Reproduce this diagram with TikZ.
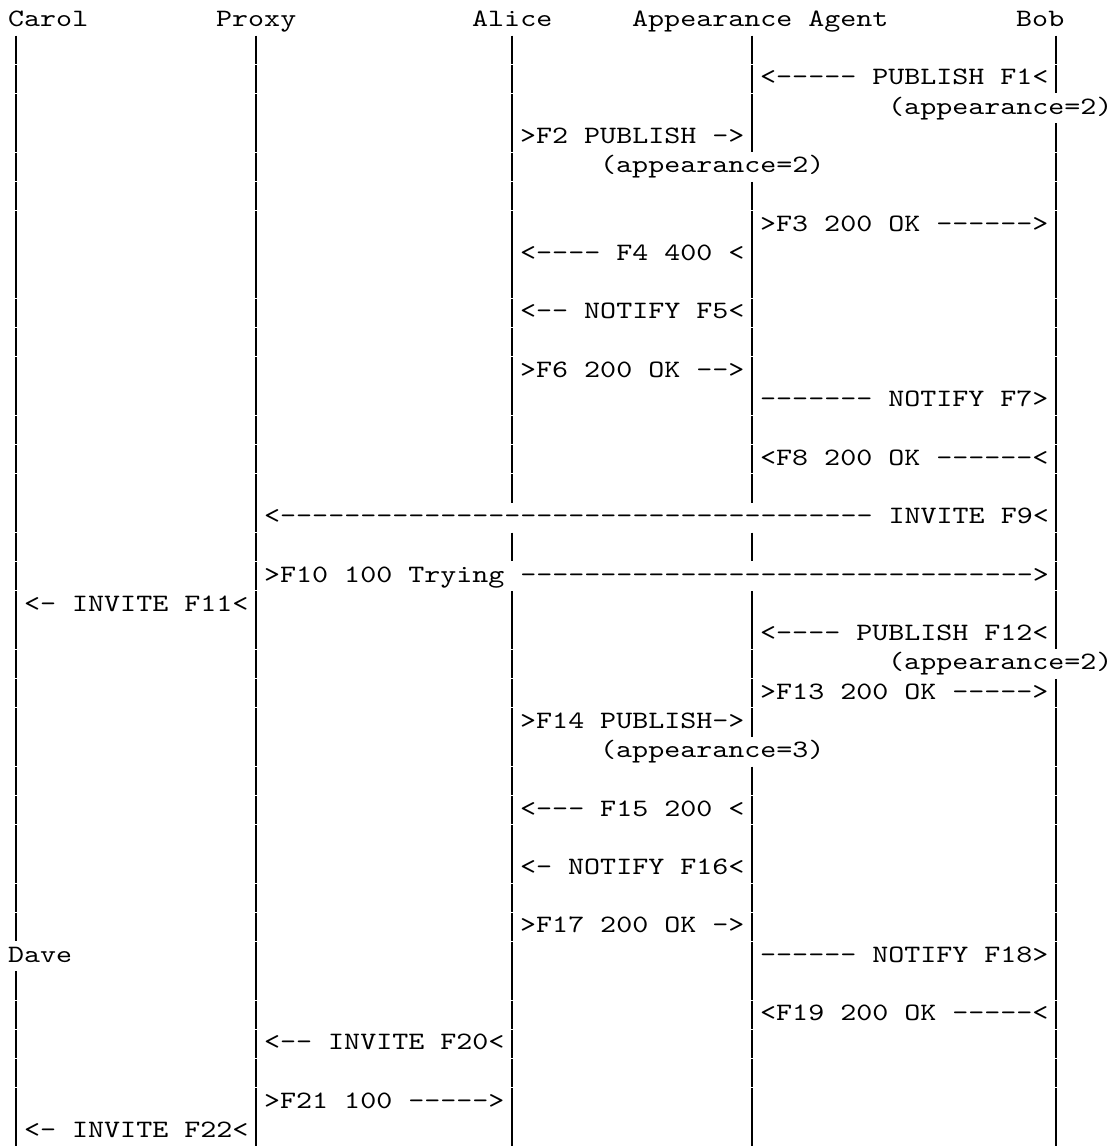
\documentclass[tikz,border=0pt]{standalone}
\usepackage{fontspec}
\setmonofont{lmmono10-regular.otf}[FakeStretch=1.22, Ligatures=TeXOff]
\usepackage{tikz}
\tikzset{
lifeline/.style={line width=1.4pt, dash pattern=on 28.5pt off 0.74pt},
msg/.style={anchor=base west, inner sep=0pt, font=\ttfamily\fontsize{25pt}{29pt}\selectfont}
}

\begin{document}
\begin{tikzpicture}[x=16pt, y=-29.24pt]
\useasboundingbox (-0.5,-0.9063) rectangle (68.9375,38.286);
\foreach \x/\a/\b in {0/1/31, 0/33/38, 15/1/38, 31/1/16, 31/18/18, 31/20/38, 46/1/4, 46/6/16, 46/18/18, 46/20/24, 46/26/38, 65/1/2, 65/4/21, 65/23/38}
  \draw[lifeline] (\x+0.5,\a-0.69) -- (\x+0.5,\b+0.285);
\node[msg] (carol) at (0,0) {Carol};
\node[msg] (proxy) at (13,0) {Proxy};
\node[msg] (alice) at (29,0) {Alice};
\node[msg] (agent) at (39,0) {Appearance Agent};
\node[msg] (bob) at (63,0) {Bob};
\node[msg] (f1) at (47,2) {<----- PUBLISH F1<};
\node[msg] (app1) at (55,3) {(appearance=2)};
\node[msg] (f2) at (32,4) {>F2 PUBLISH ->};
\node[msg] (app2) at (37,5) {(appearance=2)};
\node[msg] (f3) at (47,7) {>F3 200 OK ------>};
\node[msg] (f4) at (32,8) {<---- F4 400 <};
\node[msg] (f5) at (32,10) {<-- NOTIFY F5<};
\node[msg] (f6) at (32,12) {>F6 200 OK -->};
\node[msg] (f7) at (47,13) {------- NOTIFY F7>};
\node[msg] (f8) at (47,15) {<F8 200 OK ------<};
\node[msg] (f9) at (16,17) {<------------------------------------- INVITE F9<};
\node[msg] (f10) at (16,19) {>F10 100 Trying -------------------------------->};
\node[msg] (f11) at (1,20) {<- INVITE F11<};
\node[msg] (f12) at (47,21) {<---- PUBLISH F12<};
\node[msg] (app12) at (55,22) {(appearance=2)};
\node[msg] (f13) at (47,23) {>F13 200 OK ----->};
\node[msg] (f14) at (32,24) {>F14 PUBLISH->};
\node[msg] (app14) at (37,25) {(appearance=3)};
\node[msg] (f15) at (32,27) {<--- F15 200 <};
\node[msg] (f16) at (32,29) {<- NOTIFY F16<};
\node[msg] (f17) at (32,31) {>F17 200 OK ->};
\node[msg] (dave) at (0,32) {Dave};
\node[msg] (f18) at (47,32) {------ NOTIFY F18>};
\node[msg] (f19) at (47,34) {<F19 200 OK -----<};
\node[msg] (f20) at (16,35) {<-- INVITE F20<};
\node[msg] (f21) at (16,37) {>F21 100 ----->};
\node[msg] (f22) at (1,38) {<- INVITE F22<};
\end{tikzpicture}
\end{document}
